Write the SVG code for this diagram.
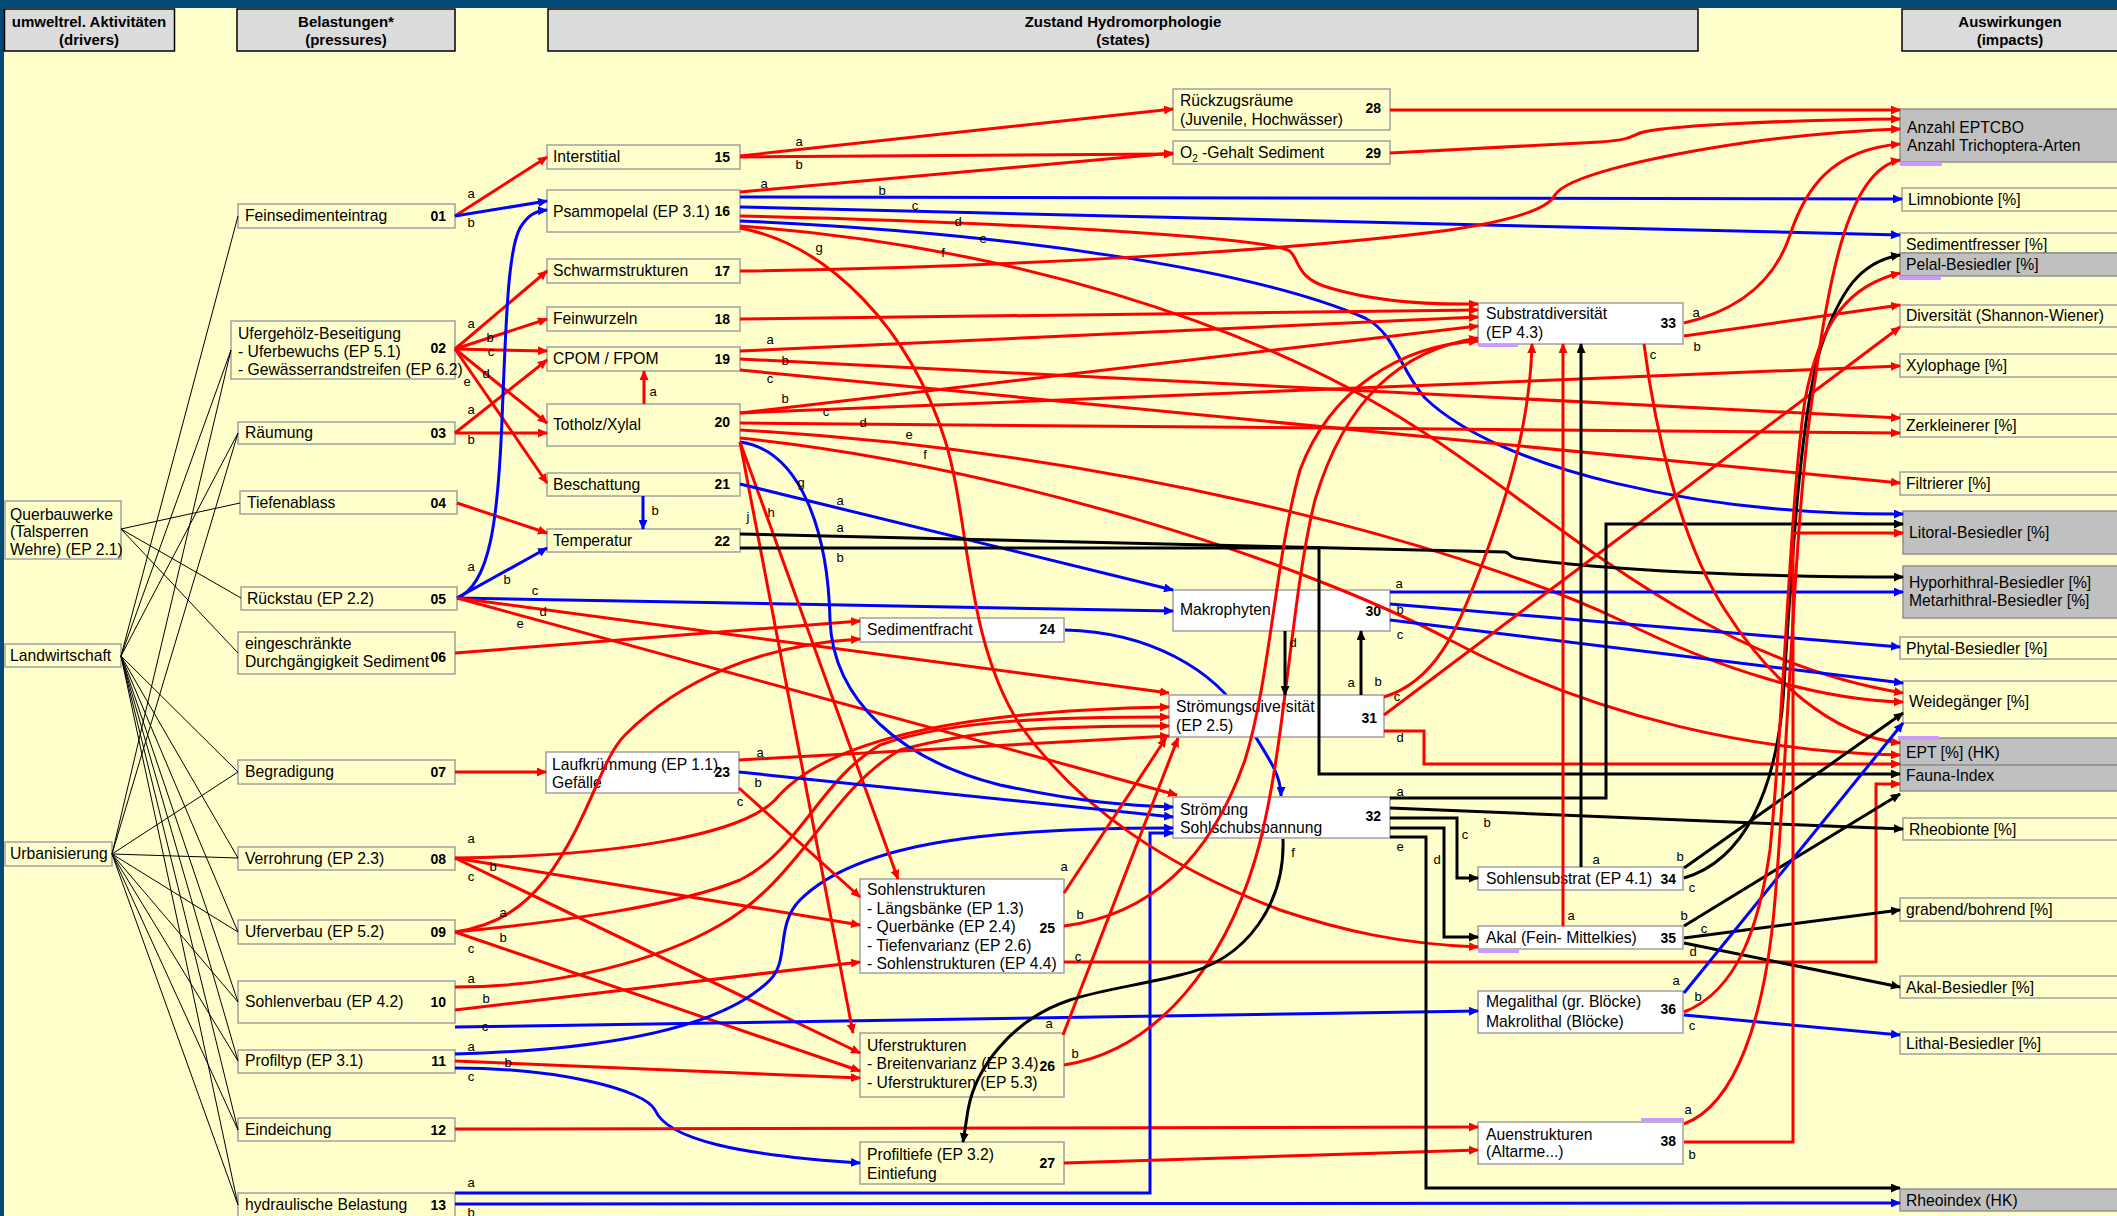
<svg xmlns="http://www.w3.org/2000/svg" width="2117" height="1216" viewBox="0 0 2117 1216">
<defs>
<style>
.t{font-family:"Liberation Sans",Arial,sans-serif;font-size:15.7px;fill:#000}
.n{font-family:"Liberation Sans",Arial,sans-serif;font-size:14px;font-weight:bold;fill:#000;text-anchor:end}
.h{font-family:"Liberation Sans",Arial,sans-serif;font-size:15px;font-weight:bold;fill:#000;text-anchor:middle}
.l{font-family:"Liberation Sans",Arial,sans-serif;font-size:13px;fill:#000;text-anchor:middle}
.bx{fill:#FFFFCC;stroke:#A0A0A0;stroke-width:1.5}
.bw{fill:#FFFFFF;stroke:#A0A0A0;stroke-width:1.5}
.bg{fill:#C0C0C0;stroke:#909090;stroke-width:1.5}
.hd{fill:#DCDCDC;stroke:#000;stroke-width:1.5}
.lav{fill:#CC99FF}
.r{fill:none;stroke:#FF0000;stroke-width:3;marker-end:url(#ar)}
.b{fill:none;stroke:#0000FF;stroke-width:3;marker-end:url(#ab)}
.k{fill:none;stroke:#000;stroke-width:3;marker-end:url(#ak)}
.d{fill:none;stroke:#000;stroke-width:1}
</style>
<marker id="ar" markerUnits="userSpaceOnUse" markerWidth="10" markerHeight="9" viewBox="0 0 10 9" refX="9" refY="4.5" orient="auto"><path d="M0,0 L10,4.5 L0,9 z" fill="#FF0000"/></marker>
<marker id="ab" markerUnits="userSpaceOnUse" markerWidth="10" markerHeight="9" viewBox="0 0 10 9" refX="9" refY="4.5" orient="auto"><path d="M0,0 L10,4.5 L0,9 z" fill="#0000FF"/></marker>
<marker id="ak" markerUnits="userSpaceOnUse" markerWidth="10" markerHeight="9" viewBox="0 0 10 9" refX="9" refY="4.5" orient="auto"><path d="M0,0 L10,4.5 L0,9 z" fill="#000"/></marker>
</defs>
<rect x="0" y="0" width="2117" height="1216" fill="#FFFFCC"/>
<rect x="0" y="0" width="2117" height="8" fill="#044A76"/>
<rect x="0" y="0" width="4" height="1216" fill="#044A76"/>

<g id="headers">
<rect class="hd" x="4.5" y="9" width="170" height="42"/>
<text class="h" x="89" y="27">umweltrel. Aktivitäten</text><text class="h" x="89" y="45">(drivers)</text>
<rect class="hd" x="237" y="9" width="218" height="42"/>
<text class="h" x="346" y="27">Belastungen*</text><text class="h" x="346" y="45">(pressures)</text>
<rect class="hd" x="548" y="9" width="1150" height="42"/>
<text class="h" x="1123" y="27">Zustand Hydromorphologie</text><text class="h" x="1123" y="45">(states)</text>
<rect class="hd" x="1902" y="9" width="225" height="42"/>
<text class="h" x="2010" y="27">Auswirkungen</text><text class="h" x="2010" y="45">(impacts)</text>
</g>

<g id="connectors-back">
<path class="b" d="M1065,630 C1150,632 1215,670 1245,720 C1270,760 1281,775 1281,796"/>
</g>

<g id="drivers">
<g id="d-querbauwerke"><rect class="bx" x="5" y="501" width="116" height="58"/><text class="t" x="10" y="520">Querbauwerke</text><text class="t" x="10" y="537">(Talsperren</text><text class="t" x="10" y="555">Wehre) (EP 2.1)</text></g>
<g id="d-landwirtschaft"><rect class="bx" x="5" y="644" width="116" height="23"/><text class="t" x="10" y="661">Landwirtschaft</text></g>
<g id="d-urbanisierung"><rect class="bx" x="5" y="842" width="107" height="24"/><text class="t" x="10" y="859">Urbanisierung</text></g>
</g>

<g id="pressures">
<g id="p01"><rect class="bx" x="238" y="204" width="217" height="24"/><text class="t" x="245" y="221">Feinsedimenteintrag</text><text class="n" x="446" y="221">01</text></g>
<g id="p02"><rect class="bx" x="231" y="321" width="224" height="58"/><text class="t" x="238" y="339">Ufergehölz-Beseitigung</text><text class="t" x="238" y="357">- Uferbewuchs (EP 5.1)</text><text class="t" x="238" y="375">- Gewässerrandstreifen (EP 6.2)</text><text class="n" x="446" y="353">02</text></g>
<g id="p03"><rect class="bx" x="238" y="422" width="217" height="22"/><text class="t" x="245" y="438">Räumung</text><text class="n" x="446" y="438">03</text></g>
<g id="p04"><rect class="bx" x="240" y="491" width="217" height="23"/><text class="t" x="247" y="508">Tiefenablass</text><text class="n" x="446" y="508">04</text></g>
<g id="p05"><rect class="bx" x="241" y="587" width="216" height="23"/><text class="t" x="247" y="604">Rückstau (EP 2.2)</text><text class="n" x="446" y="604">05</text></g>
<g id="p06"><rect class="bx" x="238" y="632" width="217" height="42"/><text class="t" x="245" y="649">eingeschränkte</text><text class="t" x="245" y="667">Durchgängigkeit Sediment</text><text class="n" x="446" y="662">06</text></g>
<g id="p07"><rect class="bx" x="238" y="760" width="217" height="24"/><text class="t" x="245" y="777">Begradigung</text><text class="n" x="446" y="777">07</text></g>
<g id="p08"><rect class="bx" x="238" y="847" width="217" height="23"/><text class="t" x="245" y="864">Verrohrung (EP 2.3)</text><text class="n" x="446" y="864">08</text></g>
<g id="p09"><rect class="bx" x="238" y="920" width="217" height="24"/><text class="t" x="245" y="937">Uferverbau (EP 5.2)</text><text class="n" x="446" y="937">09</text></g>
<g id="p10"><rect class="bx" x="238" y="981" width="217" height="42"/><text class="t" x="245" y="1007">Sohlenverbau (EP 4.2)</text><text class="n" x="446" y="1007">10</text></g>
<g id="p11"><rect class="bx" x="238" y="1050" width="217" height="23"/><text class="t" x="245" y="1066">Profiltyp (EP 3.1)</text><text class="n" x="446" y="1066">11</text></g>
<g id="p12"><rect class="bx" x="238" y="1118" width="217" height="23"/><text class="t" x="245" y="1135">Eindeichung</text><text class="n" x="446" y="1135">12</text></g>
<g id="p13"><rect class="bx" x="238" y="1193" width="217" height="30"/><text class="t" x="245" y="1210">hydraulische Belastung</text><text class="n" x="446" y="1210">13</text></g>
</g>

<g id="states">
<g id="s15"><rect class="bx" x="547" y="145" width="193" height="24"/><text class="t" x="553" y="162">Interstitial</text><text class="n" x="730" y="162">15</text></g>
<g id="s16"><rect class="bx" x="547" y="190" width="193" height="42"/><text class="t" x="553" y="217">Psammopelal (EP 3.1)</text><text class="n" x="730" y="216">16</text></g>
<g id="s17"><rect class="bx" x="547" y="259" width="193" height="24"/><text class="t" x="553" y="276">Schwarmstrukturen</text><text class="n" x="730" y="276">17</text></g>
<g id="s18"><rect class="bx" x="547" y="307" width="193" height="24"/><text class="t" x="553" y="324">Feinwurzeln</text><text class="n" x="730" y="324">18</text></g>
<g id="s19"><rect class="bx" x="547" y="347" width="193" height="24"/><text class="t" x="553" y="364">CPOM / FPOM</text><text class="n" x="730" y="364">19</text></g>
<g id="s20"><rect class="bx" x="547" y="404" width="193" height="42"/><text class="t" x="553" y="430">Totholz/Xylal</text><text class="n" x="730" y="427">20</text></g>
<g id="s21"><rect class="bx" x="547" y="473" width="193" height="23"/><text class="t" x="553" y="490">Beschattung</text><text class="n" x="730" y="489">21</text></g>
<g id="s22"><rect class="bx" x="547" y="529" width="193" height="23"/><text class="t" x="553" y="546">Temperatur</text><text class="n" x="730" y="546">22</text></g>
<g id="s23"><rect class="bw" x="546" y="752" width="193" height="41"/><text class="t" x="552" y="770">Laufkrümmung (EP 1.1)</text><text class="t" x="552" y="788">Gefälle</text><text class="n" x="730" y="777">23</text></g>
<g id="s24"><rect class="bw" x="860" y="618" width="204" height="24"/><text class="t" x="867" y="635">Sedimentfracht</text><text class="n" x="1055" y="634">24</text></g>
<g id="s25"><rect class="bw" x="860" y="879" width="204" height="94"/><text class="t" x="867" y="895">Sohlenstrukturen</text><text class="t" x="867" y="913.5">- Längsbänke (EP 1.3)</text><text class="t" x="867" y="932">- Querbänke (EP 2.4)</text><text class="t" x="867" y="950.5">- Tiefenvarianz (EP 2.6)</text><text class="t" x="867" y="969">- Sohlenstrukturen (EP 4.4)</text><text class="n" x="1055" y="933">25</text></g>
<g id="s26"><rect class="bx" x="860" y="1033" width="204" height="64"/><text class="t" x="867" y="1051">Uferstrukturen</text><text class="t" x="867" y="1069">- Breitenvarianz (EP 3.4)</text><text class="t" x="867" y="1088">- Uferstrukturen (EP 5.3)</text><text class="n" x="1055" y="1071">26</text></g>
<g id="s27"><rect class="bx" x="860" y="1142" width="204" height="42"/><text class="t" x="867" y="1160">Profiltiefe (EP 3.2)</text><text class="t" x="867" y="1179">Eintiefung</text><text class="n" x="1055" y="1168">27</text></g>
<g id="s28"><rect class="bx" x="1173" y="89" width="217" height="41"/><text class="t" x="1180" y="106">Rückzugsräume</text><text class="t" x="1180" y="125">(Juvenile, Hochwässer)</text><text class="n" x="1381" y="113">28</text></g>
<g id="s29"><rect class="bx" x="1173" y="141" width="217" height="23"/><text class="t" x="1180" y="158">O<tspan font-size="10" dy="4">2</tspan><tspan dy="-4"> -Gehalt Sediment</tspan></text><text class="n" x="1381" y="158">29</text></g>
<g id="s30"><rect class="bw" x="1173" y="590" width="217" height="41"/><text class="t" x="1180" y="615">Makrophyten</text><text class="n" x="1381" y="616">30</text></g>
<g id="s31"><rect class="bw" x="1169" y="695" width="215" height="42"/><text class="t" x="1176" y="712">Strömungsdiversität</text><text class="t" x="1176" y="731">(EP 2.5)</text><text class="n" x="1377" y="723">31</text></g>
<g id="s32"><rect class="bw" x="1173" y="797" width="217" height="41"/><text class="t" x="1180" y="815">Strömung</text><text class="t" x="1180" y="833">Sohlschubspannung</text><text class="n" x="1381" y="821">32</text></g>
<g id="s33"><rect class="bw" x="1478" y="303" width="205" height="41"/><rect class="lav" x="1478" y="344" width="40" height="3"/><text class="t" x="1486" y="319">Substratdiversität</text><text class="t" x="1486" y="338">(EP 4.3)</text><text class="n" x="1676" y="328">33</text></g>
<g id="s34"><rect class="bw" x="1478" y="867" width="205" height="23"/><text class="t" x="1486" y="884">Sohlensubstrat (EP 4.1)</text><text class="n" x="1676" y="884">34</text></g>
<g id="s35"><rect class="bw" x="1478" y="926" width="205" height="23"/><rect class="lav" x="1478" y="949" width="41" height="4"/><text class="t" x="1486" y="943">Akal (Fein- Mittelkies)</text><text class="n" x="1676" y="943">35</text></g>
<g id="s36"><rect class="bw" x="1478" y="991" width="205" height="42"/><text class="t" x="1486" y="1007">Megalithal (gr. Blöcke)</text><text class="t" x="1486" y="1027">Makrolithal (Blöcke)</text><text class="n" x="1676" y="1014">36</text></g>
<g id="s38"><rect class="bw" x="1478" y="1122" width="205" height="42"/><rect class="lav" x="1641" y="1118" width="43" height="4"/><text class="t" x="1486" y="1140">Auenstrukturen</text><text class="t" x="1486" y="1157">(Altarme...)</text><text class="n" x="1676" y="1146">38</text></g>
</g>

<g id="impacts">
<g id="i-anzahl"><rect class="bg" x="1900" y="109" width="225" height="53"/><rect class="lav" x="1900" y="162" width="42" height="4"/><text class="t" x="1907" y="133">Anzahl EPTCBO</text><text class="t" x="1907" y="151">Anzahl Trichoptera-Arten</text></g>
<g id="i-limno"><rect class="bx" x="1902" y="188" width="225" height="23"/><text class="t" x="1908" y="205">Limnobionte [%]</text></g>
<g id="i-sedfress"><rect class="bx" x="1900" y="233" width="225" height="20"/><text class="t" x="1906" y="250">Sedimentfresser [%]</text></g>
<g id="i-pelal"><rect class="bg" x="1900" y="253" width="225" height="23"/><rect class="lav" x="1899" y="276" width="42" height="4"/><text class="t" x="1906" y="270">Pelal-Besiedler [%]</text></g>
<g id="i-diversitaet"><rect class="bx" x="1900" y="305" width="225" height="22"/><text class="t" x="1906" y="321">Diversität (Shannon-Wiener)</text></g>
<g id="i-xylo"><rect class="bx" x="1900" y="354" width="225" height="23"/><text class="t" x="1906" y="371">Xylophage [%]</text></g>
<g id="i-zerkl"><rect class="bx" x="1900" y="414" width="225" height="23"/><text class="t" x="1906" y="431">Zerkleinerer [%]</text></g>
<g id="i-filtr"><rect class="bx" x="1900" y="472" width="225" height="23"/><text class="t" x="1906" y="489">Filtrierer [%]</text></g>
<g id="i-litoral"><rect class="bg" x="1903" y="511" width="225" height="43"/><text class="t" x="1909" y="538">Litoral-Besiedler [%]</text></g>
<g id="i-rhithral"><rect class="bg" x="1903" y="566" width="225" height="52"/><text class="t" x="1909" y="588">Hyporhithral-Besiedler [%]</text><text class="t" x="1909" y="606">Metarhithral-Besiedler [%]</text></g>
<g id="i-phytal"><rect class="bx" x="1900" y="637" width="225" height="22"/><text class="t" x="1906" y="654">Phytal-Besiedler [%]</text></g>
<g id="i-weide"><rect class="bx" x="1903" y="681" width="225" height="42"/><text class="t" x="1909" y="707">Weidegänger [%]</text></g>
<g id="i-ept"><rect class="bg" x="1900" y="738" width="225" height="27"/><rect class="lav" x="1898" y="736" width="41" height="4"/><text class="t" x="1906" y="758">EPT [%] (HK)</text></g>
<g id="i-fauna"><rect class="bg" x="1900" y="765" width="225" height="26"/><text class="t" x="1906" y="781">Fauna-Index</text></g>
<g id="i-rheob"><rect class="bx" x="1903" y="818" width="225" height="22"/><text class="t" x="1909" y="835">Rheobionte [%]</text></g>
<g id="i-grabend"><rect class="bx" x="1900" y="898" width="225" height="23"/><text class="t" x="1906" y="915">grabend/bohrend [%]</text></g>
<g id="i-akal"><rect class="bx" x="1900" y="976" width="225" height="22"/><text class="t" x="1906" y="993">Akal-Besiedler [%]</text></g>
<g id="i-lithal"><rect class="bx" x="1900" y="1032" width="225" height="22"/><text class="t" x="1906" y="1049">Lithal-Besiedler [%]</text></g>
<g id="i-rheoindex"><rect class="bg" x="1900" y="1189" width="225" height="22"/><text class="t" x="1906" y="1206">Rheoindex (HK)</text></g>
</g>

<g id="connectors">
<path class="d" d="M121,529 L240,503 M121,529 L241,598 M121,529 L238,653"/>
<path class="d" d="M121,656 L238,216 M121,656 L231,350 M121,656 L238,433 M121,656 L238,772 M121,656 L238,858 M121,656 L238,932 M121,656 L238,1002 M121,656 L238,1061 M121,656 L238,1130 M121,656 L238,1205"/>
<path class="d" d="M112,854 L231,350 M112,854 L238,433 M112,854 L238,772 M112,854 L238,858 M112,854 L238,932 M112,854 L238,1002 M112,854 L238,1061 M112,854 L238,1130 M112,854 L238,1205"/>

<path class="r" d="M455,216 L547,157"/>
<path class="b" d="M455,216 L547,201"/>
<path class="r" d="M455,349 L547,271"/>
<path class="r" d="M455,349 L547,319"/>
<path class="r" d="M455,349 L547,351"/>
<path class="r" d="M455,349 L547,423"/>
<path class="r" d="M455,349 L547,483"/>
<path class="r" d="M455,433 L547,360"/>
<path class="r" d="M455,433 L547,433"/>
<path class="r" d="M457,503 L547,533"/>
<path class="b" d="M457,598 C490,585 498,520 502,420 C506,320 508,250 520,228 C528,215 535,211 547,210"/>
<path class="b" d="M457,598 L547,548"/>
<path class="b" d="M457,598 L1173,611"/>
<path class="r" d="M457,598 L1169,693"/>
<path class="r" d="M457,598 L1177,795"/>
<path class="r" d="M455,653 L860,621"/>
<path class="r" d="M455,772 L546,772"/>
<path class="r" d="M455,858 C620,856 740,835 775,800 C800,770 870,712 1169,707"/>
<path class="r" d="M455,858 L860,925"/>
<path class="r" d="M455,858 L860,1053"/>
<path class="r" d="M455,932 C500,925 525,905 545,880 C590,820 600,760 625,735 C680,680 760,645 860,639"/>
<path class="r" d="M455,932 C560,922 680,905 740,880 C800,850 820,780 880,745 C950,720 1050,717 1169,717"/>
<path class="r" d="M455,932 L860,1071"/>
<path class="r" d="M455,987 C560,987 660,960 720,925 C800,880 830,790 900,750 C980,728 1060,726 1169,726"/>
<path class="r" d="M455,1010 L860,962"/>
<path class="b" d="M455,1027 L1478,1011"/>
<path class="b" d="M455,1054 C600,1050 720,1030 770,980 C790,960 775,925 800,900 C860,840 1000,828 1173,828"/>
<path class="r" d="M455,1061 L860,1078"/>
<path class="b" d="M455,1068 C560,1068 645,1090 655,1110 C668,1140 740,1155 860,1163"/>
<path class="r" d="M455,1129 L1478,1127"/>
<path class="b" d="M455,1193 L1150,1193 L1150,833 L1173,833"/>
<path class="b" d="M455,1204 L1900,1203"/>

<path class="r" d="M740,156 L1173,109"/>
<path class="r" d="M740,157 L1173,154"/>
<path class="r" d="M740,192 L1173,153"/>
<path class="b" d="M740,197 L1902,199"/>
<path class="b" d="M740,207 L1900,235"/>
<path class="r" d="M740,216 C1000,222 1250,236 1288,250 C1300,256 1293,278 1330,288 C1370,300 1420,305 1478,304"/>
<path class="b" d="M740,221 C1000,232 1250,268 1365,318 C1395,333 1400,370 1425,398 C1500,470 1700,515 1903,514"/>
<path class="r" d="M740,226 C1000,245 1250,320 1420,430 C1560,520 1700,660 1903,693"/>
<path class="r" d="M740,228 C830,245 910,330 945,440 C970,520 965,640 1020,725 C1080,810 1170,868 1280,910 C1340,930 1400,944 1478,947"/>
<path class="r" d="M740,271 C1000,268 1300,250 1450,230 C1530,218 1550,205 1555,195 C1565,178 1640,158 1750,142 C1820,133 1870,130 1900,129"/>
<path class="r" d="M740,319 L1478,310"/>
<path class="r" d="M740,351 L1478,317"/>
<path class="r" d="M740,359 L1900,418"/>
<path class="r" d="M740,370 L1900,483"/>
<path class="r" d="M644,404 L644,371"/>
<path class="r" d="M740,413 L1478,326"/>
<path class="r" d="M740,413 L1900,366"/>
<path class="r" d="M740,423 L1900,433"/>
<path class="r" d="M740,430 C1100,450 1450,540 1620,620 C1720,670 1820,700 1903,702"/>
<path class="r" d="M740,438 C1000,465 1300,560 1450,640 C1600,720 1760,752 1900,755"/>
<path class="b" d="M740,442 C800,450 828,530 830,620 C833,700 900,760 1000,785 C1080,802 1130,806 1173,807"/>
<path class="r" d="M740,442 L898,879"/>
<path class="r" d="M740,442 L853,1033"/>
<path class="b" d="M740,484 L1173,590"/>
<path class="b" d="M643,496 L643,529"/>
<path class="k" d="M740,534 L1505,552 C1510,553 1510,557 1516,558 C1600,570 1750,577 1903,577"/>
<path class="k" d="M740,548 L1319,548 L1319,774 L1900,774"/>
<path class="r" d="M739,760 L1169,736"/>
<path class="b" d="M739,772 L1173,817"/>
<path class="r" d="M739,788 L860,897"/>
<path class="r" d="M1064,893 L1166,738"/>
<path class="r" d="M1064,926 C1150,915 1210,860 1245,760 C1270,680 1275,560 1300,470 C1330,390 1400,345 1478,341"/>
<path class="r" d="M1063,1035 L1178,738"/>
<path class="r" d="M1064,1065 C1160,1050 1225,960 1255,860 C1285,760 1290,600 1315,500 C1345,400 1400,350 1478,338"/>
<path class="r" d="M1064,962 L1876,962 L1876,784 L1900,784"/>
<path class="r" d="M1064,1163 L1478,1150"/>
<path class="r" d="M1390,110 L1900,110"/>
<path class="r" d="M1390,153 L1600,142 C1630,140 1632,136 1640,133 C1660,126 1780,120 1900,119"/>
<path class="b" d="M1390,592 L1903,592"/>
<path class="b" d="M1390,604 L1900,647"/>
<path class="b" d="M1390,620 L1903,683"/>
<path class="k" d="M1285,631 L1285,695"/>
<path class="k" d="M1361,695 L1361,631"/>
<path class="r" d="M1384,697 C1440,680 1460,620 1480,570 C1510,490 1530,420 1532,344"/>
<path class="r" d="M1384,715 L1900,327"/>
<path class="r" d="M1384,731 L1424,731 L1424,764 L1900,764"/>
<path class="k" d="M1390,798 L1606,798 L1606,524 L1903,524"/>
<path class="k" d="M1390,808 L1903,829"/>
<path class="k" d="M1390,818 L1457,818 L1457,878 L1478,878"/>
<path class="k" d="M1390,828 L1444,828 L1444,937 L1478,937"/>
<path class="k" d="M1390,837 L1426,837 L1426,1188 L1900,1188"/>
<path class="k" d="M1283,839 C1285,900 1250,960 1180,975 C1140,985 1100,990 1070,1000 C1010,1020 975,1070 968,1110 L963,1142"/>
<path class="r" d="M1684,323 C1740,310 1775,280 1790,235 C1805,190 1830,150 1900,144"/>
<path class="r" d="M1684,336 L1900,305"/>
<path class="r" d="M1644,344 C1655,430 1680,540 1725,610 C1770,680 1830,735 1900,743"/>
<path class="k" d="M1581,867 L1581,344"/>
<path class="k" d="M1684,868 L1903,713"/>
<path class="k" d="M1684,878 C1745,860 1775,790 1783,700 C1792,560 1800,420 1820,350 C1840,290 1860,262 1900,255"/>
<path class="r" d="M1563,926 L1563,344"/>
<path class="k" d="M1684,926 L1900,794"/>
<path class="k" d="M1684,938 L1900,910"/>
<path class="k" d="M1684,943 L1900,987"/>
<path class="b" d="M1684,993 L1903,723"/>
<path class="r" d="M1684,1012 C1740,990 1760,920 1770,850 C1785,700 1790,500 1805,400 C1820,320 1850,285 1900,273"/>
<path class="b" d="M1684,1015 L1900,1035"/>
<path class="r" d="M1684,1124 C1735,1105 1765,1020 1775,900 C1790,720 1795,500 1815,380 C1830,270 1850,170 1900,160"/>
<path class="r" d="M1684,1142 L1793,1142 L1793,533 L1903,533"/>

<g id="edge-labels">
<text class="l" x="471" y="198">a</text><text class="l" x="471" y="227">b</text>
<text class="l" x="471" y="328">a</text><text class="l" x="490" y="342">b</text><text class="l" x="491" y="356">c</text><text class="l" x="486" y="378">d</text><text class="l" x="467" y="386">e</text>
<text class="l" x="471" y="414">a</text><text class="l" x="471" y="444">b</text>
<text class="l" x="471" y="571">a</text><text class="l" x="507" y="584">b</text><text class="l" x="535" y="595">c</text><text class="l" x="543" y="616">d</text><text class="l" x="520" y="628">e</text>
<text class="l" x="471" y="843">a</text><text class="l" x="493" y="871">b</text><text class="l" x="471" y="881">c</text>
<text class="l" x="503" y="917">a</text><text class="l" x="503" y="942">b</text><text class="l" x="471" y="953">c</text>
<text class="l" x="471" y="983">a</text><text class="l" x="486" y="1003">b</text><text class="l" x="485" y="1031">c</text>
<text class="l" x="471" y="1051">a</text><text class="l" x="508" y="1067">b</text><text class="l" x="471" y="1081">c</text>
<text class="l" x="471" y="1187">a</text><text class="l" x="471" y="1217">b</text>
<text class="l" x="799" y="146">a</text><text class="l" x="799" y="169">b</text>
<text class="l" x="764" y="188">a</text><text class="l" x="882" y="195">b</text><text class="l" x="915" y="210">c</text><text class="l" x="958" y="226">d</text><text class="l" x="983" y="243">e</text><text class="l" x="943" y="257">f</text><text class="l" x="819" y="252">g</text>
<text class="l" x="770" y="344">a</text><text class="l" x="785" y="365">b</text><text class="l" x="770" y="383">c</text>
<text class="l" x="653" y="396">a</text>
<text class="l" x="785" y="403">b</text><text class="l" x="826" y="416">c</text><text class="l" x="863" y="427">d</text><text class="l" x="909" y="439">e</text><text class="l" x="925" y="459">f</text><text class="l" x="801" y="487">g</text><text class="l" x="771" y="517">h</text><text class="l" x="748" y="521">j</text>
<text class="l" x="840" y="505">a</text><text class="l" x="655" y="515">b</text>
<text class="l" x="840" y="532">a</text><text class="l" x="840" y="562">b</text>
<text class="l" x="760" y="757">a</text><text class="l" x="758" y="787">b</text><text class="l" x="740" y="806">c</text>
<text class="l" x="1064" y="871">a</text><text class="l" x="1080" y="919">b</text><text class="l" x="1078" y="961">c</text>
<text class="l" x="1049" y="1028">a</text><text class="l" x="1075" y="1058">b</text>
<text class="l" x="1399" y="588">a</text><text class="l" x="1400" y="614">b</text><text class="l" x="1400" y="639">c</text><text class="l" x="1293" y="647">d</text>
<text class="l" x="1351" y="687">a</text><text class="l" x="1378" y="686">b</text><text class="l" x="1397" y="701">c</text><text class="l" x="1400" y="742">d</text>
<text class="l" x="1400" y="796">a</text><text class="l" x="1487" y="827">b</text><text class="l" x="1465" y="839">c</text><text class="l" x="1437" y="864">d</text><text class="l" x="1400" y="851">e</text><text class="l" x="1293" y="857">f</text>
<text class="l" x="1696" y="317">a</text><text class="l" x="1697" y="351">b</text><text class="l" x="1653" y="359">c</text>
<text class="l" x="1596" y="864">a</text><text class="l" x="1680" y="861">b</text><text class="l" x="1692" y="892">c</text>
<text class="l" x="1571" y="920">a</text><text class="l" x="1684" y="920">b</text><text class="l" x="1704" y="933">c</text><text class="l" x="1693" y="956">d</text>
<text class="l" x="1676" y="985">a</text><text class="l" x="1698" y="1001">b</text><text class="l" x="1692" y="1030">c</text>
<text class="l" x="1688" y="1114">a</text><text class="l" x="1692" y="1159">b</text>
</g>
</g>
</svg>
